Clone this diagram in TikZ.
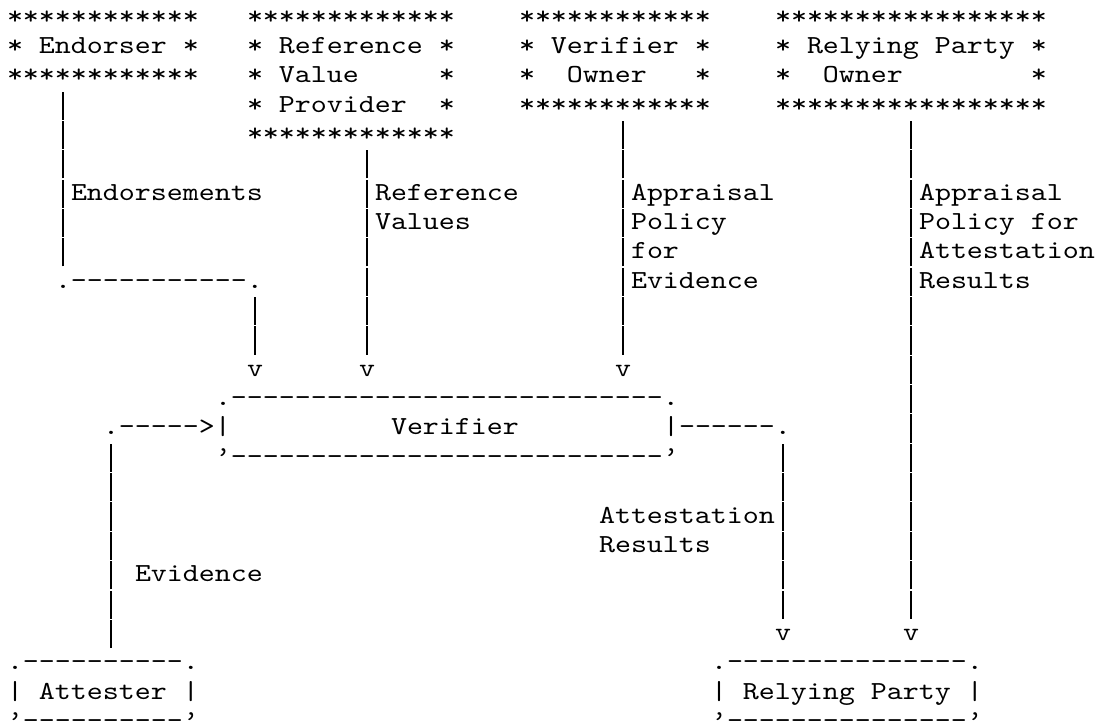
\documentclass[tikz,border=0pt]{standalone}
\usepackage{fontspec}
\newfontfamily\asciifont{lmmono10-regular.otf}[FakeStretch=1.172,Ligatures=TeXOff]

\begin{document}
\begin{tikzpicture}[
  x=8pt, y=-14.675pt,
  ascii/.style={
    font=\asciifont\fontsize{13}{14}\selectfont,
    anchor=base west,
    inner sep=0pt,
    outer sep=0pt
  },
  bar/.style={
    ascii,
    anchor=base
  }
]
\useasboundingbox (-0.4375,0.179) rectangle (68.25,24.81);

% Owner boxes along the top.
\node[ascii] (endorserA) at (0,1) {************};
\node[ascii] (endorserB) at (0,2) {* Endorser *};
\node[ascii] (endorserC) at (0,3) {************};

\node[ascii] (refA) at (15,1) {*************};
\node[ascii] (refB) at (15,2) {* Reference *};
\node[ascii] (refC) at (15,3) {* Value~~~~~*};
\node[ascii] (refD) at (15,4) {* Provider~~*};
\node[ascii] (refE) at (15,5) {*************};

\node[ascii] (verA) at (32,1) {************};
\node[ascii] (verB) at (32,2) {* Verifier *};
\node[ascii] (verC) at (32,3) {*~~Owner~~~*};
\node[ascii] (verD) at (32,4) {************};

\node[ascii] (rpoA) at (48,1) {*****************};
\node[ascii] (rpoB) at (48,2) {* Relying Party *};
\node[ascii] (rpoC) at (48,3) {*~~Owner~~~~~~~~*};
\node[ascii] (rpoD) at (48,4) {*****************};

% Vertical runs, one bar per row.
\foreach \r in {4,...,9}   \node[bar] (eb\r) at (3.5,\r) {\rule[-3.8pt]{0.6pt}{14.1pt}};
\foreach \r in {11,12}     \node[bar] (cb\r) at (15.5,\r) {\rule[-3.8pt]{0.6pt}{14.1pt}};
\foreach \r in {6,...,12}  \node[bar] (rb\r) at (22.5,\r) {\rule[-3.8pt]{0.6pt}{14.1pt}};
\foreach \r in {5,...,12}  \node[bar] (vb\r) at (38.5,\r) {\rule[-3.8pt]{0.6pt}{14.1pt}};
\foreach \r in {5,...,21}  \node[bar] (pb\r) at (56.5,\r) {\rule[-3.8pt]{0.6pt}{14.1pt}};
\foreach \r in {16,...,22} \node[bar] (lb\r) at (6.5,\r) {\rule[-3.8pt]{0.6pt}{14.1pt}};
\foreach \r in {16,...,21} \node[bar] (ab\r) at (48.5,\r) {\rule[-3.8pt]{0.6pt}{14.1pt}};

% Flow labels.
\node[ascii] (endorsements) at (4,7) {Endorsements};
\node[ascii] (refvalA) at (23,7) {Reference};
\node[ascii] (refvalB) at (23,8) {Values};
\node[ascii] (polEvA) at (39,7) {Appraisal};
\node[ascii] (polEvB) at (39,8) {Policy};
\node[ascii] (polEvC) at (39,9) {for};
\node[ascii] (polEvD) at (39,10) {Evidence};
\node[ascii] (polArA) at (57,7) {Appraisal};
\node[ascii] (polArB) at (57,8) {Policy for};
\node[ascii] (polArC) at (57,9) {Attestation};
\node[ascii] (polArD) at (57,10) {Results};

\node[ascii] (ecorner) at (3,10) {.-----------.};
\node[ascii] (vE) at (15,13) {v};
\node[ascii] (vR) at (22,13) {v};
\node[ascii] (vV) at (38,13) {v};

% Verifier.
\node[ascii] (verTop) at (13,14) {.---------------------------.};
\node[ascii] (evArrow) at (6,15) {.----->|};
\node[ascii] (verifier) at (24,15) {Verifier};
\node[ascii] (arOut) at (41,15) {|------.};
\node[ascii] (verBot) at (13,16) {’---------------------------’};

\node[ascii] (arA) at (37,18) {Attestation};
\node[ascii] (arB) at (37,19) {Results};
\node[ascii] (evidence) at (8,20) {Evidence};
\node[ascii] (vA) at (48,22) {v};
\node[ascii] (vP) at (56,22) {v};

% Attester and Relying Party.
\node[ascii] (attTop) at (0,23) {.----------.};
\node[ascii] (attester) at (0,24) {| Attester |};
\node[ascii] (attBot) at (0,25) {’----------’};

\node[ascii] (rpTop) at (44,23) {.---------------.};
\node[ascii] (rp) at (44,24) {| Relying Party |};
\node[ascii] (rpBot) at (44,25) {’---------------’};

\end{tikzpicture}
\end{document}
